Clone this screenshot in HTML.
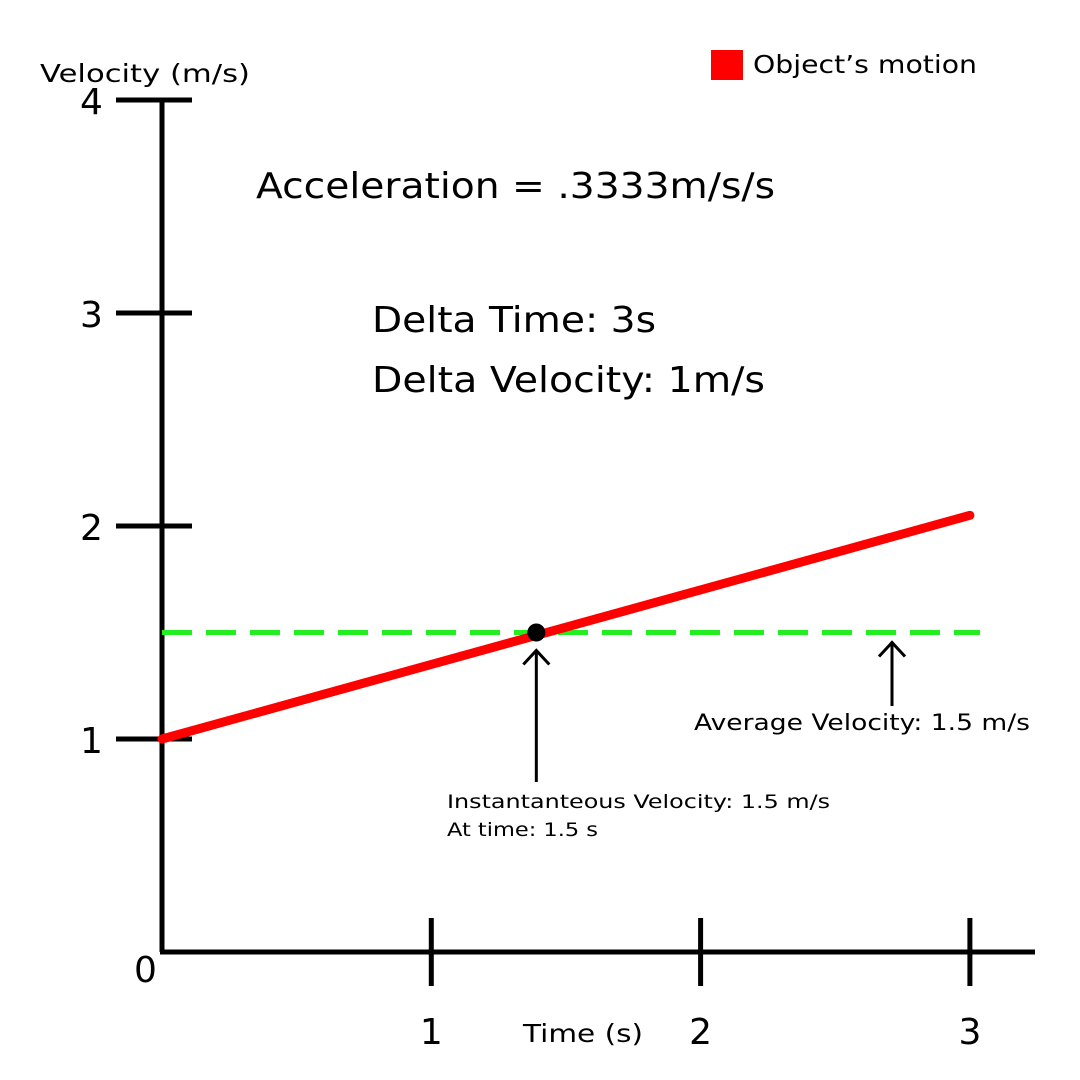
<!DOCTYPE html>
<html><head><meta charset="utf-8">
<style>
html,body{margin:0;padding:0;background:#fff;}
svg{display:block;}
text{font-family:"DejaVu Sans","Liberation Sans",sans-serif;fill:#000;}
</style></head>
<body>
<svg id="chart" width="1080" height="1080" viewBox="0 0 1080 1080" xmlns="http://www.w3.org/2000/svg">
<rect width="1080" height="1080" fill="#fff"/>
<g id="axes"></g>
<g id="marks"></g>
<text x="40" y="82" font-size="25" textLength="210" lengthAdjust="spacingAndGlyphs">Velocity (m/s)</text>
<text x="523" y="1042" font-size="25" textLength="120" lengthAdjust="spacingAndGlyphs">Time (s)</text>
<rect x="711" y="50" width="32" height="30" fill="#ff0000"/>
<text x="753" y="73" font-size="25" textLength="224" lengthAdjust="spacingAndGlyphs">Object’s motion</text>
<text x="256" y="198" font-size="36" textLength="519" lengthAdjust="spacingAndGlyphs">Acceleration = .3333m/s/s</text>
<text x="372" y="332" font-size="36" textLength="284" lengthAdjust="spacingAndGlyphs">Delta Time: 3s</text>
<text x="372" y="392" font-size="36" textLength="393" lengthAdjust="spacingAndGlyphs">Delta Velocity: 1m/s</text>
<text x="694" y="730" font-size="22" textLength="336" lengthAdjust="spacingAndGlyphs">Average Velocity: 1.5 m/s</text>
<text x="447" y="808" font-size="19" textLength="383" lengthAdjust="spacingAndGlyphs">Instantanteous Velocity: 1.5 m/s</text>
<text x="447" y="836" font-size="19" textLength="151" lengthAdjust="spacingAndGlyphs">At time: 1.5 s</text>
</svg>
<script>
const yTicks = [0, 1, 2, 3, 4];
const xTicks = [1, 2, 3];
const motionTimes = [0, 3];
const motionVelocities = [1, 2.05];
const averageVelocity = [1.5];
const instantTime = [1.39];
const instantVelocity = [1.5];

const x0 = 162, y0 = 952;
function xs(t){ return x0 + t * 269.3; }
function ys(v){ return y0 - v * 213; }
const NS = "http://www.w3.org/2000/svg";
function mk(tag, attrs, parent){
  const el = document.createElementNS(NS, tag);
  for (const k in attrs) el.setAttribute(k, attrs[k]);
  parent.appendChild(el); return el;
}
const axes = document.getElementById('axes');
const marks = document.getElementById('marks');

let a = mk('line',{x1:x0,y1:ys(4),x2:x0,y2:y0,stroke:'#000','stroke-width':5},axes);


a = mk('line',{x1:x0-2,y1:y0,x2:1035,y2:y0,stroke:'#000','stroke-width':5},axes);



yTicks.forEach(v=>{
  if (v > 0) {
    const t = mk('line',{x1:116,y1:ys(v),x2:192,y2:ys(v),stroke:'#000','stroke-width':5},axes);
    
    
  }
  const lb = mk('text',{x: v===0?134:80, y: ys(v)+(v===0?30:14),'font-size':36},axes);
  lb.textContent = v;
  
  
});
xTicks.forEach(v=>{
  const t = mk('line',{x1:xs(v),y1:918,x2:xs(v),y2:986,stroke:'#000','stroke-width':5},axes);
  
  
  const lb = mk('text',{x:xs(v),y:1044,'font-size':36,'text-anchor':'middle'},axes);
  lb.textContent = v;
  
  
});

const avg = mk('line',{x1:x0,y1:ys(averageVelocity[0]),x2:980,y2:ys(averageVelocity[0]),stroke:'#22ee22','stroke-width':5,'stroke-dasharray':'30 14'},marks);



const pts = motionTimes.map((t,i)=>xs(t)+','+ys(motionVelocities[i])).join(' ');
const ml = mk('polyline',{points:pts,fill:'none',stroke:'#ff0000','stroke-width':9,'stroke-linecap':'round'},marks);



const dot = mk('circle',{cx:xs(instantTime[0]),cy:ys(instantVelocity[0]),r:9,fill:'#000'},marks);



function arrow(x, yTop, yBot, name){
  const g = mk('g',{stroke:'#000','stroke-width':3,fill:'none'},marks);
  
  
  mk('line',{x1:x,y1:yTop,x2:x,y2:yBot},g);
  mk('polyline',{points:(x-13)+','+(yTop+14)+' '+x+','+yTop+' '+(x+13)+','+(yTop+14)},g);
}
arrow(xs(instantTime[0]), ys(instantVelocity[0])+18, 782, 'instant-arrow');
arrow(892, ys(averageVelocity[0])+10, 706, 'average-arrow');
</script>
</body></html>
